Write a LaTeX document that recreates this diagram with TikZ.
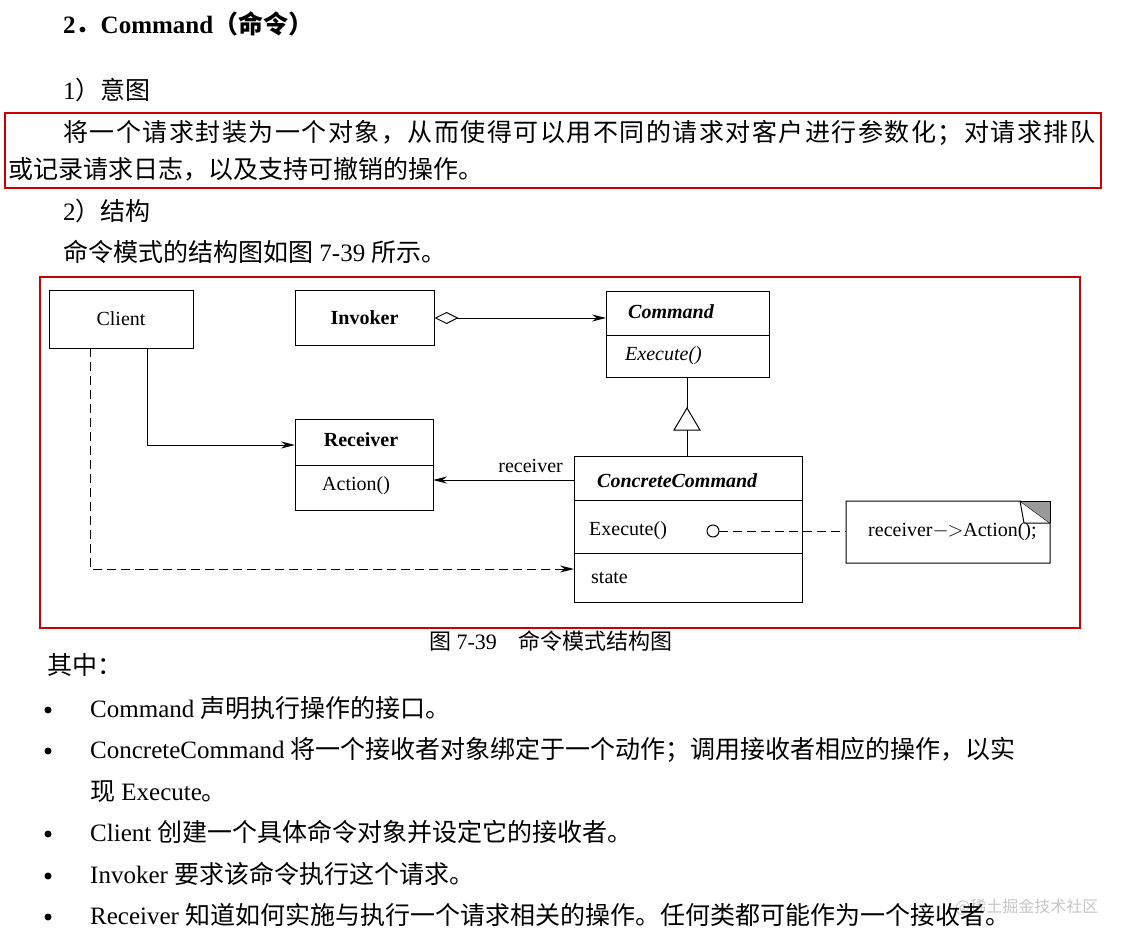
\documentclass[tikz,border=0pt]{standalone}
\usepackage{fontspec}
\setmainfont{Liberation Serif}
\newfontfamily\cjk{Noto Sans CJK SC}
\newfontfamily\cjkwide[LetterSpace=6]{Noto Sans CJK SC}
\newcommand{\zz}[1]{{\cjk #1}}
\usetikzlibrary{arrows.meta}
\tikzset{
  txt/.style={anchor=base west,inner sep=0pt,font=\fontsize{25}{30}\selectfont},
  cls/.style={draw,line width=1pt,inner sep=0pt},
  lbl/.style={inner sep=0pt,font=\fontsize{20}{23}\selectfont},
  redbox/.style={draw=red!80!black,line width=2pt},
  conn/.style={line width=1pt},
  arr/.style={-{Stealth[length=14pt,width=7pt]}},
  dsh/.style={dash pattern=on 9pt off 5pt}
}
\begin{document}
\begin{tikzpicture}[x=1pt,y=-1pt]
\useasboundingbox[fill=white] (0,0) rectangle (1132,944);
\node[txt,font=\fontsize{25}{30}\selectfont\bfseries] (t0) at (63,34) {2\zz{．}Command\zz{（命令）}};
\node[txt] (t1) at (63,100) {1\zz{）意图}};
\node[txt] (t2) at (63,142) {\cjkwide 将一个请求封装为一个对象，从而使得可以用不同的请求对客户进行参数化；对请求排队};
\node[txt] (t3) at (8,179) {\zz{或记录请求日志，以及支持可撤销的操作。}};
\draw[redbox] (5,113) rectangle (1101,188);
\node[txt] (t4) at (63,221) {2\zz{）结构}};
\node[txt] (t5) at (63,261) {\zz{命令模式的结构图如图} 7-39 \zz{所示。}};
\draw[redbox] (40,277) rectangle (1080,628);
% diagram
\node[cls,minimum width=144pt,minimum height=58pt,lbl] (client) at (121,319) {Client};
\node[cls,minimum width=139pt,minimum height=55pt,lbl,font=\fontsize{20}{23}\selectfont\bfseries] (inv) at (364.5,318) {Invoker};
\draw[cls] (606,291) rectangle (769,377); \draw[conn] (606,335) -- (769,335);
\coordinate (cmdL) at (606,318); \coordinate (cmdB) at (687,377);
\node[lbl,font=\fontsize{20}{23}\selectfont\bfseries\itshape,anchor=west] (cmdn) at (628,312) {Command};
\node[lbl,font=\fontsize{20}{23}\selectfont\itshape,anchor=west] (cmde) at (625,356) {Execute()};
\draw[cls] (295,419) rectangle (433,510); \draw[conn] (295,465) -- (433,465);
\coordinate (recL) at (295,445); \coordinate (recR) at (433,480);
\node[lbl,font=\fontsize{20}{23}\selectfont\bfseries,anchor=center] (recn) at (361,440) {Receiver};
\node[lbl,anchor=west] (reca) at (322,486) {Action()};
\draw[cls] (574,456) rectangle (802,602); \draw[conn] (574,500) -- (802,500); \draw[conn] (574,553) -- (802,553);
\coordinate (ccT) at (687,456); \coordinate (ccL) at (574,480); \coordinate (ccL2) at (574,569);
\node[lbl,font=\fontsize{20}{23}\selectfont\bfseries\itshape,anchor=west] (ccn) at (597,481) {ConcreteCommand};
\node[lbl,anchor=west] (cce) at (589,531) {Execute()};
\node[lbl,anchor=west] (ccs) at (591,578) {state};
\draw[cls] (846,501) -- (1020,501) -- (1050,523) -- (1050,563) -- (846,563) -- cycle;
\fill[gray!80] (1020,501) -- (1050,501) -- (1050,523) -- cycle;
\draw[conn] (1020,501) -- (1024,523) -- (1050,523);
\draw[conn] (1020,501) -- (1050,501) -- (1050,523);
\coordinate (noteL) at (846,531);
\node[lbl,anchor=west] (notet) at (868,532) {receiver$-\!\!>$Action();};
\draw[conn,{Diamond[open,length=24pt,width=12pt]}-{Stealth[length=14pt,width=7pt]}] (inv.east) -- (cmdL);
\draw[conn] (cmdB) -- (687,408);
\draw[conn] (ccT) -- (687,430);
\draw[conn,fill=white] (687,408) -- (674,430) -- (700,430) -- cycle;
\draw[conn,arr] (ccL) -- (recR);
\node[lbl,anchor=base east] (rl) at (563,472) {receiver};
\draw[conn,arr] (147,348) |- (recL);
\draw[conn,arr,dsh] (90,348) |- (ccL2);
\coordinate (circ) at (713,531);
\draw[conn] (circ) circle (6);
\draw[conn,dsh] (719,531) -- (noteL);
\node[txt,anchor=base,font=\fontsize{22}{26}\selectfont] (cap) at (551,649) {\zz{图} 7-39\quad\zz{命令模式结构图}};
\node[txt] (q) at (47,674) {\zz{其中：}};
\foreach \yy in {717,758,841,883,924}{\fill (48,\yy-7) circle (3.5);}
\node[txt,font=\fontsize{16}{20}\selectfont\cjk,text=gray!45] (wm) at (955,912) {@稀土掘金技术社区};
\node[txt] (l1) at (90,717) {Command \zz{声明执行操作的接口。}};
\node[txt] (l2) at (90,758) {ConcreteCommand \zz{将一个接收者对象绑定于一个动作；调用接收者相应的操作，以实}};
\node[txt] (l2b) at (90,800) {\zz{现} Execute\zz{。}};
\node[txt] (l3) at (90,841) {Client \zz{创建一个具体命令对象并设定它的接收者。}};
\node[txt] (l4) at (90,883) {Invoker \zz{要求该命令执行这个请求。}};
\node[txt] (l5) at (90,924) {Receiver \zz{知道如何实施与执行一个请求相关的操作。任何类都可能作为一个接收者。}};
\end{tikzpicture}
\end{document}
